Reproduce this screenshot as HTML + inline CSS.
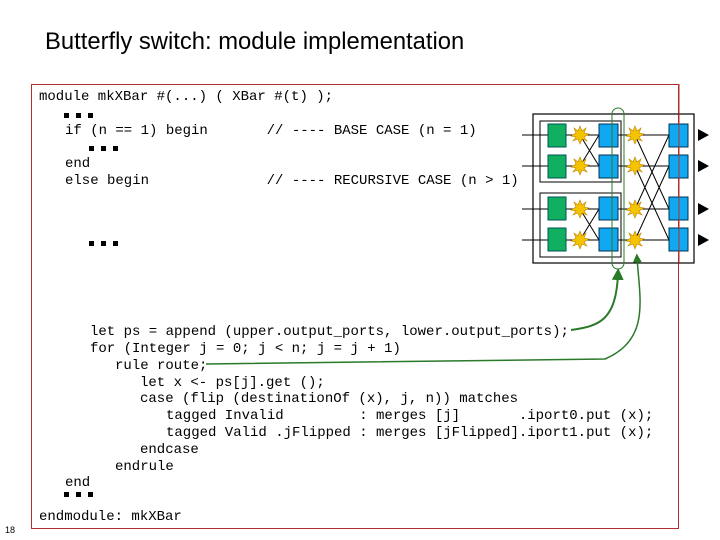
<!DOCTYPE html>
<html><head><meta charset="utf-8"><style>
body{margin:0;width:720px;height:540px;background:#fff;position:relative;overflow:hidden}
.t{position:absolute;left:45px;top:28px;font:23.8px "Liberation Sans",sans-serif;color:#000}
.c{position:absolute;font:14px "Liberation Mono",monospace;white-space:pre;color:#000;line-height:16px}
.box{position:absolute;left:31px;top:84px;width:646px;height:443px;border:1px solid #b03030}
.pn{position:absolute;left:5px;top:525px;font:9px "Liberation Sans",sans-serif}
svg{position:absolute;left:0;top:0}
</style></head><body>
<div class="t">Butterfly switch: module implementation</div>
<div class="box"></div>
<div class="pn">18</div>
<div class="c" style="left:39px;top:89px">module mkXBar #(...) ( XBar #(t) );</div>
<div class="c" style="left:65px;top:123px">if (n == 1) begin       // ---- BASE CASE (n = 1)</div>
<div class="c" style="left:65px;top:156px">end</div>
<div class="c" style="left:65px;top:173px">else begin              // ---- RECURSIVE CASE (n &gt; 1)</div>
<div class="c" style="left:90px;top:324px">let ps = append (upper.output_ports, lower.output_ports);</div>
<div class="c" style="left:90px;top:341px">for (Integer j = 0; j &lt; n; j = j + 1)</div>
<div class="c" style="left:115px;top:358px">rule route;</div>
<div class="c" style="left:140px;top:375px">let x &lt;- ps[j].get ();</div>
<div class="c" style="left:140px;top:391px">case (flip (destinationOf (x), j, n)) matches</div>
<div class="c" style="left:166px;top:408px">tagged Invalid         : merges [j]       .iport0.put (x);</div>
<div class="c" style="left:166px;top:425px">tagged Valid .jFlipped : merges [jFlipped].iport1.put (x);</div>
<div class="c" style="left:140px;top:442px">endcase</div>
<div class="c" style="left:115px;top:459px">endrule</div>
<div class="c" style="left:65px;top:475px">end</div>
<div class="c" style="left:39px;top:509px">endmodule: mkXBar</div>
<svg width="720" height="540" viewBox="0 0 720 540">
<defs>
<polygon id="st" points="0,-9 2,-4 6,-7 4,-2 9,-1 4,2 7,6 2,4 0,9 -2,4 -7,6 -4,2 -9,1 -4,-2 -6,-7 -2,-4" fill="#f5c400" stroke="#c08000" stroke-width="0.6"/>
<marker id="ah" markerWidth="6" markerHeight="6" refX="3" refY="3" orient="auto"><path d="M0,0L6,3L0,6z" fill="#2a7a2a"/></marker>
</defs>
<g fill="#000">
<g id="d"><rect x="64" y="113" width="5" height="5"/><rect x="76" y="113" width="5" height="5"/><rect x="88" y="113" width="5" height="5"/></g>
<use href="#d" x="25" y="33"/>
<use href="#d" x="25" y="128"/>
<use href="#d" x="0" y="379"/>
</g>
<g stroke="#000" fill="none" stroke-width="1">
<rect x="533" y="114" width="161" height="149" stroke-width="1.2"/>
<rect x="540" y="121" width="81" height="61"/>
<rect x="540" y="193" width="81" height="64"/>
<path d="M522,135H548M522,166H548M522,209H548M522,240H548"/>
<path d="M566,135H599M566,166H599M566,209H599M566,240H599"/>
<path d="M580,135L599,166M580,166L599,135M580,209L599,240M580,240L599,209"/>
<path d="M618,135H669M618,166H669M618,209H669M618,240H669"/>
<path d="M635,135L669,209M635,166L669,240M635,209L669,135M635,240L669,166"/>
</g>
<g fill="#10b060" stroke="#055">
<rect x="548" y="124" width="18" height="23"/><rect x="548" y="155" width="18" height="23"/>
<rect x="548" y="197" width="18" height="23"/><rect x="548" y="228" width="18" height="23"/>
</g>
<g fill="#10a8f0" stroke="#035">
<rect x="599" y="124" width="19" height="23"/><rect x="599" y="155" width="19" height="23"/>
<rect x="599" y="197" width="19" height="23"/><rect x="599" y="228" width="19" height="23"/>
<rect x="669" y="124" width="19" height="23"/><rect x="669" y="155" width="19" height="23"/>
<rect x="669" y="197" width="19" height="23"/><rect x="669" y="228" width="19" height="23"/>
</g>
<use href="#st" x="580" y="135"/><use href="#st" x="580" y="166"/><use href="#st" x="580" y="209"/><use href="#st" x="580" y="240"/>
<use href="#st" x="635" y="135"/><use href="#st" x="635" y="166"/><use href="#st" x="635" y="209"/><use href="#st" x="635" y="240"/>
<g fill="#000"><path d="M698,129L709,135L698,141z"/><path d="M698,160L709,166L698,172z"/><path d="M698,203L709,209L698,215z"/><path d="M698,234L709,240L698,246z"/></g>
<line x1="679" y1="84" x2="679" y2="264" stroke="#b03030"/>
<rect x="612" y="108" width="12" height="161" rx="6" fill="none" stroke="#2a7a2a"/>
<g stroke="#2a7a2a" stroke-width="2" fill="none">
<path d="M571,330C600,326 616,320 618,274" marker-end="url(#ah)"/>
<path d="M206,364L605,359C650,340 640,300 637,258" marker-end="url(#ah)" stroke-width="1.5"/>
</g>
</svg>
</body></html>
